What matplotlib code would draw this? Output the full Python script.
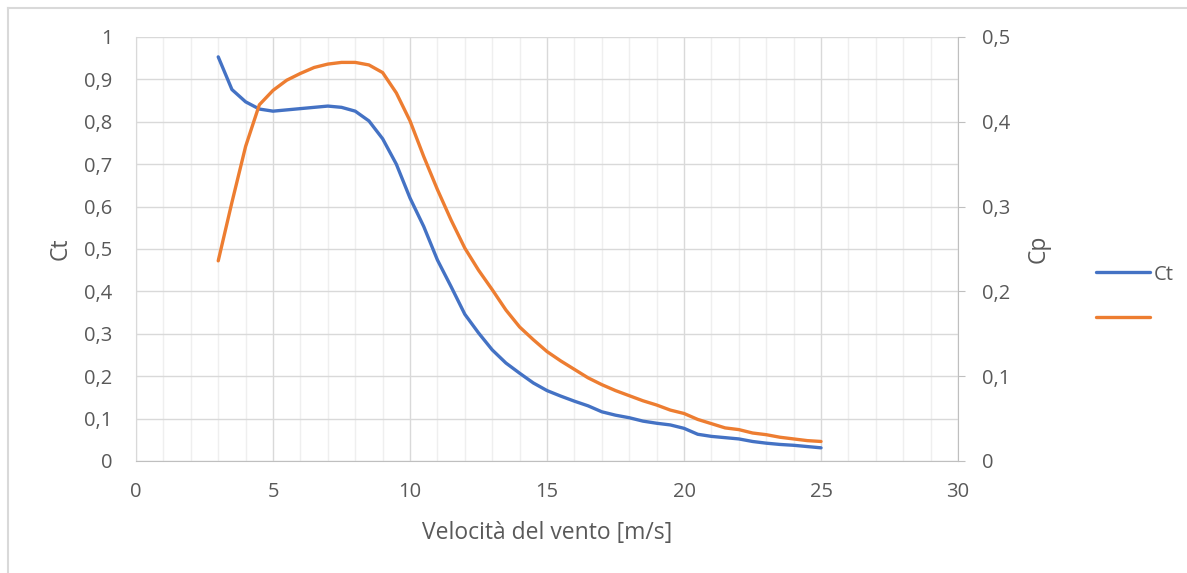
import matplotlib.pyplot as plt
from matplotlib.ticker import MultipleLocator, FuncFormatter
from matplotlib.lines import Line2D

# wind speed [m/s]
wind = [3, 3.5, 4, 4.5, 5, 5.5, 6, 6.5, 7, 7.5, 8, 8.5, 9, 9.5, 10, 10.5, 11, 11.5,
        12, 12.5, 13, 13.5, 14, 14.5, 15, 15.5, 16, 16.5, 17, 17.5, 18, 18.5, 19,
        19.5, 20, 20.5, 21, 21.5, 22, 22.5, 23, 23.5, 24, 24.5, 25]

ct = [0.953, 0.876, 0.847, 0.830, 0.825, 0.828, 0.831, 0.834, 0.837, 0.834, 0.825,
      0.802, 0.760, 0.700, 0.620, 0.553, 0.474, 0.411, 0.346, 0.302, 0.262, 0.231,
      0.207, 0.184, 0.166, 0.153, 0.141, 0.130, 0.116, 0.108, 0.102, 0.094, 0.089,
      0.085, 0.077, 0.063, 0.058, 0.055, 0.052, 0.046, 0.042, 0.039, 0.037, 0.034,
      0.031]

cp = [0.236, 0.305, 0.371, 0.420, 0.437, 0.449, 0.457, 0.464, 0.468, 0.470, 0.470,
      0.467, 0.458, 0.434, 0.401, 0.359, 0.320, 0.284, 0.251, 0.225, 0.202, 0.178,
      0.158, 0.143, 0.129, 0.118, 0.108, 0.098, 0.090, 0.083, 0.077, 0.071, 0.066,
      0.060, 0.056, 0.049, 0.044, 0.039, 0.037, 0.033, 0.031, 0.028, 0.026, 0.024,
      0.023]

plt.rcParams['font.family'] = ['Open Sans', 'DejaVu Sans']
txt = '#595959'
grid_major = '#d9d9d9'
grid_minor = '#efefef'
fs_tick = 14.5
fs_lab = 16.5

fig = plt.figure(figsize=(11.87, 5.73), dpi=100)
ax = fig.add_axes([0.1146, 0.1955, 0.6925, 0.74])
ax2 = ax.twinx()

# chart border (only top and left edges visible in the crop)
fig.lines.append(Line2D([0.0067, 0.0067], [0.0, 0.986], transform=fig.transFigure,
                        color='#d9d9d9', lw=1.5))
fig.lines.append(Line2D([0.0067, 1.0], [0.986, 0.986], transform=fig.transFigure,
                        color='#d9d9d9', lw=1.5))

l1, = ax.plot(wind, ct, color='#4472C4', lw=2.4, solid_capstyle='round')
l2, = ax2.plot(wind, cp, color='#ED7D31', lw=2.4, solid_capstyle='round')
# orange drawn over blue, grid stays behind both
ax.set_zorder(1)
ax2.set_zorder(2)
ax2.patch.set_visible(False)

ax.set_xlim(0, 30)
ax.set_ylim(0, 1)
ax2.set_ylim(0, 0.5)

ax.xaxis.set_major_locator(MultipleLocator(5))
ax.xaxis.set_minor_locator(MultipleLocator(1))
ax.yaxis.set_major_locator(MultipleLocator(0.1))
ax2.yaxis.set_major_locator(MultipleLocator(0.1))

comma = FuncFormatter(lambda v, p: ('%g' % round(v, 2)).replace('.', ','))
ax.yaxis.set_major_formatter(comma)
ax2.yaxis.set_major_formatter(comma)

ax.grid(which='major', color=grid_major, lw=1)
ax.grid(which='minor', axis='x', color=grid_minor, lw=1)
ax.set_axisbelow(True)

for a in (ax, ax2):
    for s in a.spines.values():
        s.set_visible(False)
ax.spines['bottom'].set_visible(True)
ax.spines['bottom'].set_color('#bfbfbf')
ax.spines['left'].set_visible(True)
ax.spines['left'].set_color('#d9d9d9')
ax2.spines['right'].set_visible(True)
ax2.spines['right'].set_color('#bfbfbf')

ax.tick_params(axis='both', which='both', length=0, labelsize=fs_tick, labelcolor=txt)
ax.tick_params(axis='y', pad=17)
ax.tick_params(axis='x', pad=15)
ax2.tick_params(axis='y', length=5, color='#bfbfbf', labelsize=fs_tick, labelcolor=txt, pad=12)

ax.set_xlabel('Velocità del vento [m/s]', fontsize=fs_lab, color=txt, labelpad=14)
ax.set_ylabel('Ct', fontsize=fs_lab, color=txt, labelpad=8)
ax2.set_ylabel('Cp', fontsize=fs_lab, color=txt, labelpad=12)

fig.legend(handles=[l1, l2], labels=['Ct', ''], loc='upper left',
           bbox_to_anchor=(0.908, 0.57), frameon=False, fontsize=fs_tick,
           labelcolor=txt, handlelength=2.7, handletextpad=0.15, labelspacing=1.2)

fig.savefig('out.png', dpi=100)
